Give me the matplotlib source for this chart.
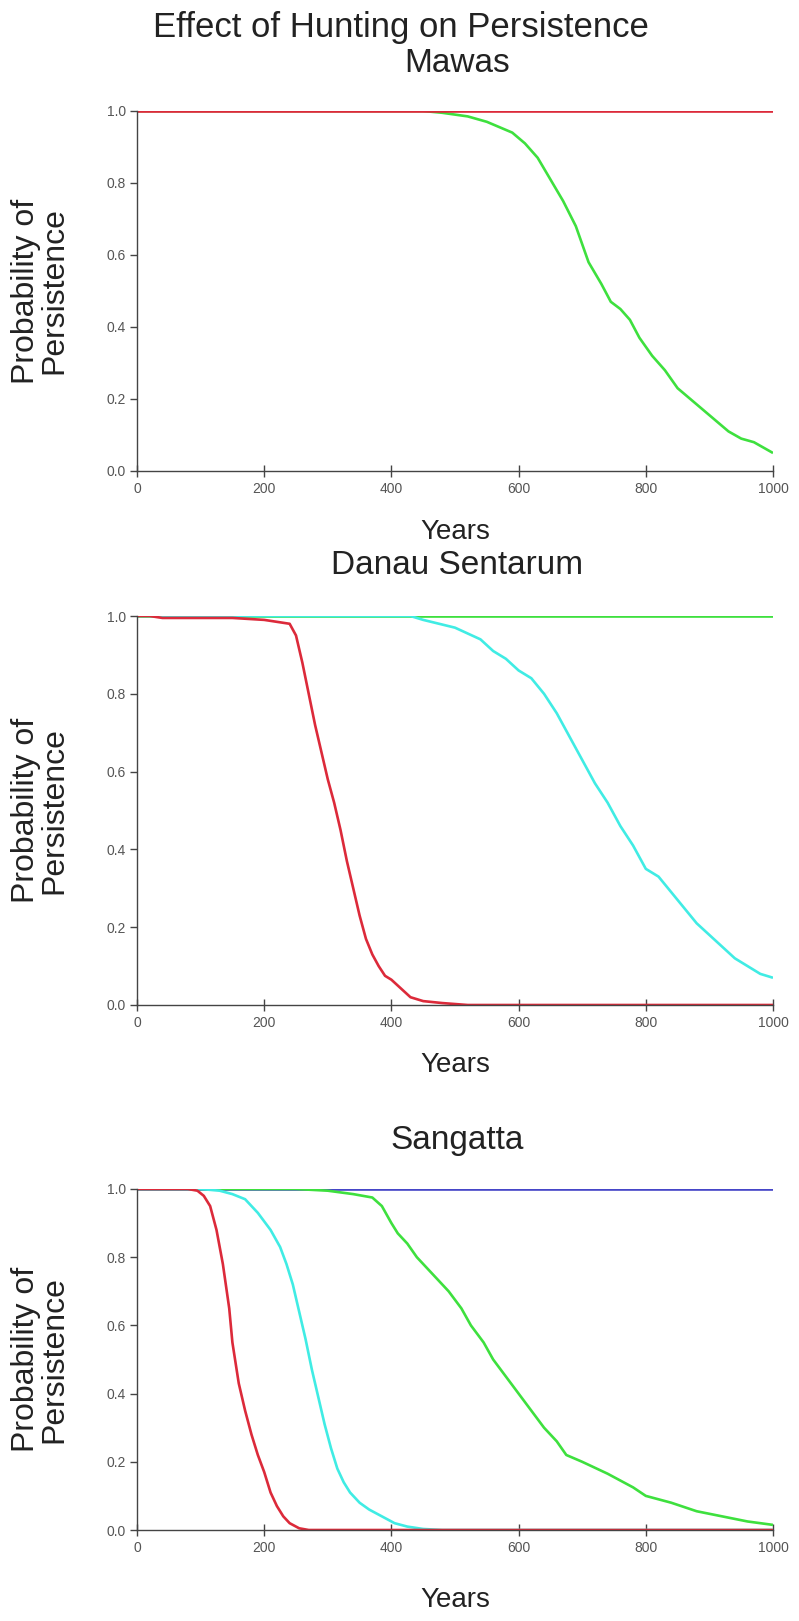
import numpy as np
import matplotlib
matplotlib.use('Agg')
import matplotlib.pyplot as plt

plt.rcParams['font.family'] = ['Liberation Sans', 'DejaVu Sans']

# ---- data (years, probability of persistence) ----
# Mawas
mawas_red_x = [0, 1000]
mawas_red_y = [1.0, 1.0]
mawas_green_x = [0, 450, 480, 520, 550, 570, 590, 610, 630, 650, 670, 690, 700, 710, 730, 745,
                 760, 775, 790, 810, 830, 850, 870, 890, 910, 930, 950, 970, 985, 1000]
mawas_green_y = [1.0, 1.0, 0.995, 0.985, 0.97, 0.955, 0.94, 0.91, 0.87, 0.81, 0.75, 0.68, 0.63, 0.58,
                 0.52, 0.47, 0.45, 0.42, 0.37, 0.32, 0.28, 0.23, 0.20, 0.17, 0.14, 0.11, 0.09, 0.08,
                 0.065, 0.05]

# Danau Sentarum
danau_green_x = [0, 1000]
danau_green_y = [1.0, 1.0]
danau_cyan_x = [0, 430, 450, 500, 540, 560, 580, 600, 620, 640, 660, 680, 700, 720, 740, 760, 780,
                800, 820, 840, 860, 880, 900, 920, 940, 960, 980, 1000]
danau_cyan_y = [1.0, 1.0, 0.99, 0.97, 0.94, 0.91, 0.89, 0.86, 0.84, 0.80, 0.75, 0.69, 0.63, 0.57,
                0.52, 0.46, 0.41, 0.35, 0.33, 0.29, 0.25, 0.21, 0.18, 0.15, 0.12, 0.10, 0.08, 0.07]
danau_red_x = [0, 20, 40, 150, 200, 220, 240, 250, 260, 270, 280, 290, 300, 310, 320, 330, 340,
               350, 360, 370, 380, 390, 400, 410, 420, 430, 450, 480, 520, 1000]
danau_red_y = [1.0, 1.0, 0.995, 0.995, 0.99, 0.985, 0.98, 0.95, 0.88, 0.8, 0.72, 0.65, 0.58, 0.52,
               0.45, 0.37, 0.3, 0.23, 0.17, 0.13, 0.1, 0.075, 0.065, 0.05, 0.035, 0.02, 0.01, 0.005,
               0.0, 0.0]

# Sangatta
sang_blue_x = [0, 1000]
sang_blue_y = [1.0, 1.0]
sang_green_x = [0, 250, 300, 340, 370, 385, 400, 410, 425, 440, 455, 470, 490, 510, 525, 545, 560,
                580, 600, 620, 640, 660, 675, 700, 740, 780, 800, 840, 880, 920, 960, 1000]
sang_green_y = [1.0, 1.0, 0.995, 0.985, 0.975, 0.95, 0.9, 0.87, 0.84, 0.80, 0.77, 0.74, 0.70, 0.65,
                0.60, 0.55, 0.50, 0.45, 0.40, 0.35, 0.30, 0.26, 0.22, 0.20, 0.165, 0.125, 0.10,
                0.08, 0.055, 0.04, 0.025, 0.015]
sang_cyan_x = [0, 100, 130, 150, 170, 190, 210, 225, 235, 245, 255, 265, 275, 285, 295, 305, 315,
               325, 335, 350, 365, 385, 405, 425, 450, 480, 1000]
sang_cyan_y = [1.0, 1.0, 0.995, 0.985, 0.97, 0.93, 0.88, 0.83, 0.78, 0.72, 0.64, 0.56, 0.47, 0.39,
               0.31, 0.24, 0.18, 0.14, 0.11, 0.08, 0.06, 0.04, 0.02, 0.01, 0.003, 0.0, 0.0]
sang_red_x = [0, 80, 95, 105, 115, 125, 135, 145, 150, 160, 170, 180, 190, 200, 210, 220, 230, 240,
              255, 270, 1000]
sang_red_y = [1.0, 1.0, 0.995, 0.98, 0.95, 0.88, 0.78, 0.65, 0.55, 0.43, 0.35, 0.28, 0.22, 0.17,
              0.11, 0.07, 0.04, 0.02, 0.005, 0.0, 0.0]

RED = '#dc2a3a'
GREEN = '#3ee03e'
CYAN = '#40ece4'
BLUE = '#4646c8'

panels = [
    ('Mawas', [(mawas_green_x, mawas_green_y, GREEN), (mawas_red_x, mawas_red_y, RED)]),
    ('Danau Sentarum', [(danau_green_x, danau_green_y, GREEN), (danau_cyan_x, danau_cyan_y, CYAN),
                        (danau_red_x, danau_red_y, RED)]),
    ('Sangatta', [(sang_blue_x, sang_blue_y, BLUE), (sang_green_x, sang_green_y, GREEN),
                  (sang_cyan_x, sang_cyan_y, CYAN), (sang_red_x, sang_red_y, RED)]),
]

W, H = 799, 1621
fig = plt.figure(figsize=(W / 100, H / 100), dpi=100)

# axes boxes in pixels: (top, bottom)
left_px, right_px = 137, 773
boxes = [(111, 471), (616, 1005), (1189, 1530)]
title_y = [64, 566, 1140]
years_y = [532, 1065, 1600]

fig.text(401 / W, 1 - 27 / H, 'Effect of Hunting on Persistence', ha='center', va='center',
         fontsize=25, color='#222222')

for (name, series), (top, bot), ty, yy in zip(panels, boxes, title_y, years_y):
    ax = fig.add_axes([left_px / W, 1 - bot / H, (right_px - left_px) / W, (bot - top) / H])
    for xs, ys, c in series:
        ax.plot(xs, ys, color=c, lw=1.9, solid_capstyle='butt')
    ax.set_xlim(0, 1000)
    ax.set_ylim(0, 1.0)
    ax.spines['top'].set_visible(False)
    ax.spines['right'].set_visible(False)
    for s in ('left', 'bottom'):
        ax.spines[s].set_color('#444444')
        ax.spines[s].set_linewidth(1.0)
    ax.set_xticks([0, 200, 400, 600, 800, 1000])
    ax.set_yticks([0.0, 0.2, 0.4, 0.6, 0.8, 1.0])
    ax.set_yticklabels(['0.0', '0.2', '0.4', '0.6', '0.8', '1.0'])
    ax.tick_params(axis='x', direction='inout', length=8, width=1, colors='#444444',
                   labelsize=10, labelcolor='#555555', pad=4)
    ax.tick_params(axis='y', direction='out', length=5, width=1, colors='#444444',
                   labelsize=10, labelcolor='#555555', pad=3)
    fig.text((left_px + right_px) / 2 / W, 1 - yy / H, 'Years', ha='center', va='center',
             fontsize=20, color='#222222')
    fig.text(40 / W, 1 - (top + bot) / 2 / H, 'Probability of\nPersistence', rotation=90,
             ha='center', va='center', fontsize=23, color='#222222', linespacing=0.95)
    fig.text(457 / W, 1 - ty / H, name, ha='center', va='center',
             fontsize=24, color='#222222')

fig.savefig('out.png', dpi=100, facecolor='white')
